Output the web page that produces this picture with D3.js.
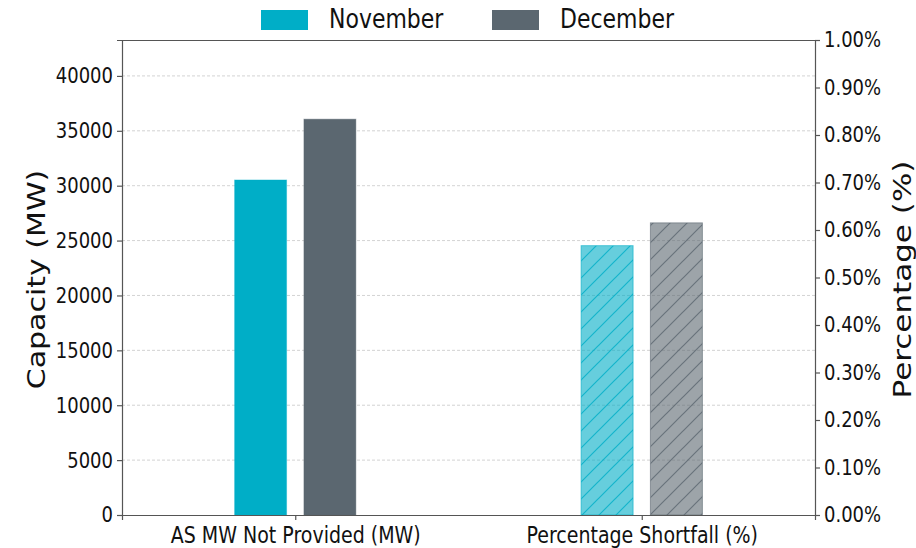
<!DOCTYPE html>
<html>
<head>
<meta charset="utf-8">
<script src="https://cdn.jsdelivr.net/npm/d3@7"></script>
<style>
  body { margin: 0; background: #fff; }
  text { font-family: "DejaVu Sans", sans-serif; fill: #111; }
</style>
</head>
<body>
<svg id="chart" width="916" height="548"></svg>
<script>
// data
var categories = ["AS MW Not Provided (MW)", "Percentage Shortfall (%)"];
var months = ["November", "December"];
var asMw = [30520, 36060];          // MW, left axis
var pctShortfall = [0.567, 0.615];  // %, right axis
var leftTicks = [0, 5000, 10000, 15000, 20000, 25000, 30000, 35000, 40000];
var rightTicks = [0, 0.1, 0.2, 0.3, 0.4, 0.5, 0.6, 0.7, 0.8, 0.9, 1.0];

var colors = ["#00aec7", "#5b6770"];

var margin = {left: 122, right: 101, top: 40, bottom: 33},
	W = 916, H = 548,
	width = W - margin.left - margin.right,
	height = H - margin.top - margin.bottom;

// the picture is a bit taller than wide, so text glyphs get stretched vertically
var SY = 1.2;

var svg = d3.select("#chart");

// hatch patterns
var defs = svg.append("defs");
colors.forEach(function(c, i) {
	var p = defs.append("pattern").attr("id", "hatch" + i)
		.attr("patternUnits", "userSpaceOnUse").attr("width", 17).attr("height", 17);
	p.append("rect").attr("width", 17).attr("height", 17).attr("fill", c).attr("fill-opacity", 0.6);
	p.append("path").attr("d", "M-4,21 L21,-4 M-4,4 L4,-4 M13,21 L21,13")
		.attr("stroke", c).attr("stroke-width", 1.2).attr("stroke-opacity", 0.8);
});

var g = svg.append("g").attr("transform", "translate(" + margin.left + "," + margin.top + ")");

var x = d3.scaleLinear().domain([-0.5, 1.5]).range([0, width]);
var yL = d3.scaleLinear().domain([0, d3.max(asMw) * 1.2]).range([height, 0]);
var yR = d3.scaleLinear().domain([0, 1.0]).range([height, 0]);

// grid
g.append("g").selectAll("line").data(leftTicks.slice(1)).enter().append("line")
	.attr("x1", 0).attr("x2", width)
	.attr("y1", function(d) { return yL(d); }).attr("y2", function(d) { return yL(d); })
	.attr("stroke", "#c8c8c8").attr("stroke-width", 0.8).attr("stroke-dasharray", "3,2");

var bw = 0.15, off = 0.1;
var bars = [];
months.forEach(function(m, i) {
	bars.push({cat: 0, i: i, y0: yL(0), y1: yL(asMw[i]), fill: colors[i], stroke: colors[i]});
	bars.push({cat: 1, i: i, y0: yR(0), y1: yR(pctShortfall[i]), fill: "url(#hatch" + i + ")", stroke: colors[i]});
});
g.selectAll("rect.bar").data(bars).enter().append("rect").attr("class", "bar")
	.attr("x", function(d) { return x(d.cat + (d.i === 0 ? -off : off) - bw / 2); })
	.attr("width", x(bw) - x(0))
	.attr("y", function(d) { return d.y1; })
	.attr("height", function(d) { return d.y0 - d.y1; })
	.attr("fill", function(d) { return d.fill; })
	.attr("stroke", function(d) { return d.stroke; })
	.attr("stroke-opacity", function(d) { return d.cat ? 0.6 : 0.4; })
	.attr("stroke-width", 1);

// axes
var axL = g.append("g").call(d3.axisLeft(yL).tickValues(leftTicks).tickSize(5).tickPadding(4).tickFormat(d3.format("d")));
var axR = g.append("g").attr("transform", "translate(" + width + ",0)")
	.call(d3.axisRight(yR).tickValues(rightTicks).tickSize(5).tickPadding(4).tickFormat(function(d) { return d.toFixed(2) + "%"; }));
var axB = g.append("g").attr("transform", "translate(0," + height + ")")
	.call(d3.axisBottom(x).tickValues([0, 1]).tickSize(5).tickPadding(5).tickFormat(function(d) { return categories[d]; }));
var axT = g.append("g").call(d3.axisTop(x).tickValues([]).tickSizeOuter(0));
[axL, axR, axB, axT].forEach(function(a) {
	a.selectAll("text").attr("font-size", 18).attr("fill", "#111").attr("transform", "scale(1," + SY + ")");
	a.selectAll("line, path").attr("stroke", "#555").attr("stroke-width", 1.2);
});
axB.selectAll("text").attr("font-size", 19);

// axis labels
svg.append("text").attr("transform", "translate(45," + (margin.top + height / 2 + 2) + ") rotate(-90) scale(" + SY + ",1)")
	.attr("text-anchor", "middle").attr("font-size", 25).text("Capacity (MW)");
svg.append("text").attr("transform", "translate(911," + (margin.top + height / 2 + 2) + ") rotate(-90) scale(1.24,1)")
	.attr("text-anchor", "middle").attr("font-size", 25).text("Percentage (%)");

// legend
var leg = svg.append("g").attr("transform", "translate(261,10)");
months.forEach(function(m, i) {
	var lg = leg.append("g").attr("transform", "translate(" + (i * 231) + ",0)");
	lg.append("rect").attr("width", 47).attr("height", 20).attr("fill", colors[i]);
	lg.append("text").attr("transform", "translate(68,17.5) scale(1," + SY + ")")
		.attr("font-size", 22).text(m);
});
</script>
</body>
</html>
